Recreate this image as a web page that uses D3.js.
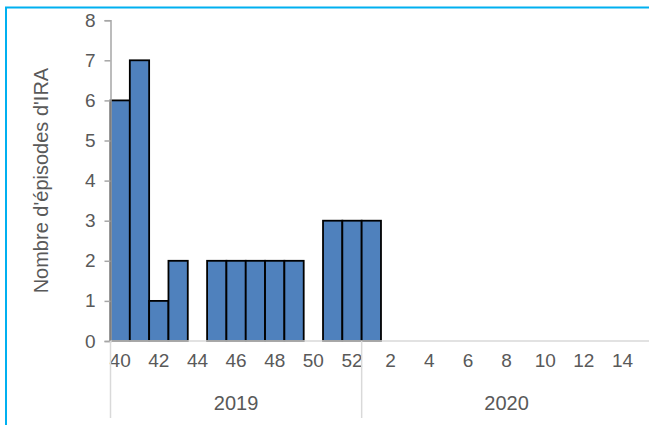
<!DOCTYPE html>
<html>
<head>
<meta charset="utf-8">
<script src="https://cdn.jsdelivr.net/npm/d3@7"></script>
<style>
  html, body { margin: 0; padding: 0; background: #fff; overflow: hidden; }
  svg { display: block; }
  text { font-family: "Liberation Sans", Arial, sans-serif; fill: #595959; }
</style>
</head>
<body>
<svg id="chart" width="649" height="425"></svg>
<script>
// Weekly counts of ARI episodes, by year and ISO week
const years = ["2019", "2020"];
const weeks2019 = [40, 41, 42, 43, 44, 45, 46, 47, 48, 49, 50, 51, 52];
const values2019 = [6, 7, 1, 2, 0, 2, 2, 2, 2, 2, 0, 3, 3];
const weeks2020 = [1, 2, 3, 4, 5, 6, 7, 8, 9, 10, 11, 12, 13, 14, 15];
const values2020 = [3, 0, 0, 0, 0, 0, 0, 0, 0, 0, 0, 0, 0, 0, 0];
const yTicks = [0, 1, 2, 3, 4, 5, 6, 7, 8];
const yTitle = "Nombre d'épisodes d'IRA";

const rows = [
  ...weeks2019.map((w, i) => ({ year: "2019", week: w, value: values2019[i] })),
  ...weeks2020.map((w, i) => ({ year: "2020", week: w, value: values2020[i] }))
].map(d => ({ ...d, key: d.year + "-" + d.week }));

const svg = d3.select("#chart");

// Outer frame (runs past the right and bottom edges of the view)
svg.append("rect")
  .attr("x", 6).attr("y", 7.5)
  .attr("width", 700).attr("height", 480)
  .attr("fill", "none")
  .attr("stroke", "#00B0F0")
  .attr("stroke-width", 2);

const plotLeft = 110.5, plotTop = 20.2, plotBottom = 341, step = 19.32;

const x = d3.scaleBand()
  .domain(rows.map(d => d.key))
  .range([plotLeft, plotLeft + step * rows.length])
  .padding(0);

const y = d3.scaleLinear().domain([0, 8]).range([plotBottom, plotTop]);

// Bars
svg.append("g")
  .selectAll("rect")
  .data(rows.filter(d => d.value > 0))
  .join("rect")
  .attr("x", d => x(d.key))
  .attr("y", d => y(d.value))
  .attr("width", x.bandwidth())
  .attr("height", d => y(0) - y(d.value))
  .attr("fill", "#4F81BD")
  .attr("stroke", "#000")
  .attr("stroke-width", 1.8);

// Y axis
const yAxis = svg.append("g")
  .attr("transform", `translate(${plotLeft},0)`)
  .call(d3.axisLeft(y).tickValues(yTicks).tickFormat(d3.format("d")).tickSizeOuter(0).tickSize(6).tickPadding(9));
yAxis.select(".domain").attr("stroke", "#A6A6A6").attr("stroke-width", 1.5);
yAxis.selectAll(".tick line").attr("stroke", "#A6A6A6").attr("stroke-width", 1.5);
yAxis.selectAll(".tick text")
  .style("font-size", "19px")
  .style("font-family", "Liberation Sans, Arial, sans-serif")
  .style("fill", "#595959");

// X axis baseline
svg.append("line")
  .attr("x1", plotLeft).attr("x2", 700)
  .attr("y1", plotBottom).attr("y2", plotBottom)
  .attr("stroke", "#D9D9D9").attr("stroke-width", 1.5);

// Week labels, every second week
const xAxis = svg.append("g")
  .attr("transform", `translate(0,${plotBottom})`)
  .call(d3.axisBottom(x)
    .tickValues(rows.filter((d, i) => i % 2 === 0).map(d => d.key))
    .tickFormat(k => k.split("-")[1])
    .tickSize(0).tickPadding(13));
xAxis.select(".domain").remove();
xAxis.selectAll(".tick text")
  .style("font-size", "19px")
  .style("font-family", "Liberation Sans, Arial, sans-serif")
  .style("fill", "#595959");

// Year groups: separators and labels
const groups = years.map(yr => {
  const r = rows.filter(d => d.year === yr);
  return { year: yr, x0: x(r[0].key), x1: x(r[r.length - 1].key) + x.bandwidth() };
});
svg.append("g").selectAll("line")
  .data(groups)
  .join("line")
  .attr("x1", d => d.x0).attr("x2", d => d.x0)
  .attr("y1", plotBottom).attr("y2", 418)
  .attr("stroke", "#D9D9D9").attr("stroke-width", 1.5);

svg.append("g").selectAll("text")
  .data(groups)
  .join("text")
  .attr("x", d => (d.x0 + d.x1) / 2)
  .attr("y", 410)
  .attr("text-anchor", "middle")
  .style("font-size", "20px")
  .text(d => d.year);

// Y axis title
svg.append("text")
  .attr("transform", `translate(48,${(plotTop + plotBottom) / 2}) rotate(-90)`)
  .attr("text-anchor", "middle")
  .style("font-size", "20px")
  .text(yTitle);
</script>
</body>
</html>
